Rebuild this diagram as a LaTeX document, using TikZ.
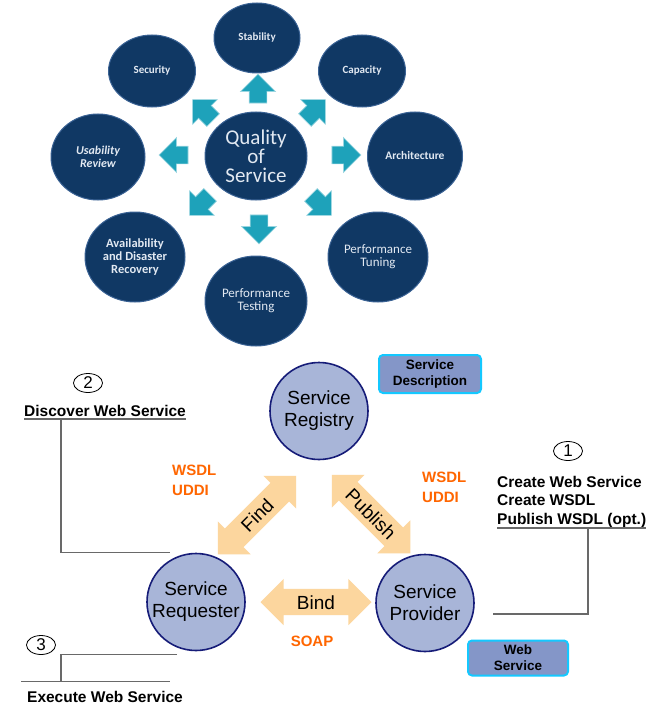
\documentclass[tikz,border=0pt]{standalone}
\usepackage{fontspec}
\setmainfont{Liberation Sans}
\newfontfamily\calfont{Carlito}
\usetikzlibrary{shapes.geometric}
\usetikzlibrary{shapes.arrows}
\usetikzlibrary{calc}
\definecolor{discblue}{RGB}{16,56,100}
\definecolor{discrim}{RGB}{58,98,148}
\definecolor{disctext}{RGB}{226,233,242}
\definecolor{qosteal}{RGB}{30,162,186}
\definecolor{regfill}{RGB}{168,181,216}
\definecolor{regedge}{RGB}{22,28,120}
\definecolor{peach}{RGB}{252,214,158}
\definecolor{boxfill}{RGB}{132,150,200}
\definecolor{boxedge}{RGB}{20,200,255}
\definecolor{wsdl}{RGB}{255,102,0}
\definecolor{callgray}{RGB}{105,105,105}
\begin{document}
\begin{tikzpicture}[x=1pt,y=-1pt,
    disc/.style={ellipse,fill=discblue,draw=discrim,line width=1pt,text=disctext,align=center,inner sep=0pt},
    qarrow/.style={single arrow,fill=qosteal,draw=white!55!qosteal,line width=0.7pt,inner xsep=0pt,inner ysep=8.5pt,
        minimum width=0pt,minimum height=29pt,single arrow head extend=8.5pt,single arrow tip angle=90},
    rolelabel/.style={align=center,inner sep=0pt,font=\fontsize{19}{22}\selectfont},
    role/.style={ellipse,fill=regfill,draw=regedge,line width=1.6pt,inner sep=0pt,minimum width=98pt,minimum height=97pt,
        label={[rolelabel]center:#1}},
    link/.style={double arrow,fill=peach,inner xsep=0pt,inner ysep=6pt,text height=14pt,text depth=0pt,
        double arrow head extend=10pt,double arrow tip angle=90,minimum height=111pt,font=\fontsize{19}{22}\selectfont},
    tag/.style={rounded corners=4pt,fill=boxfill,draw=boxedge,line width=2pt,align=center,inner sep=0pt,
        font=\bfseries\fontsize{13.5}{16}\selectfont},
    num/.style={ellipse,draw,line width=0.8pt,inner sep=0pt,minimum width=29pt,minimum height=19pt,font=\fontsize{17}{17}\selectfont},
    note/.style={inner sep=0pt,align=left,font=\bfseries\fontsize{15.5}{18.5}\selectfont},
    proto/.style={inner sep=0pt,align=left,text=wsdl,font=\bfseries\fontsize{15}{20}\selectfont},
    callout/.style={draw=callgray,line width=1.5pt}]
    \useasboundingbox (0,0) rectangle (656,706);
    \fill[white] (0,0) rectangle (656,706);
    \node[disc,minimum width=86pt,minimum height=70pt,font=\calfont\bfseries\fontsize{11}{13}\selectfont] (stab) at (257,38) {Stability};
    \node[disc,minimum width=87pt,minimum height=72pt,font=\calfont\bfseries\fontsize{11}{13}\selectfont] (sec) at (152,71) {Security};
    \node[disc,minimum width=87pt,minimum height=72pt,font=\calfont\bfseries\fontsize{11}{13}\selectfont] (cap) at (362,71) {Capacity};
    \node[disc,minimum width=94pt,minimum height=86pt,font=\calfont\bfseries\itshape\fontsize{12}{12.5}\selectfont] (usab) at (98,157) {Usability\\Review};
    \node[disc,minimum width=95pt,minimum height=88pt,font=\calfont\bfseries\fontsize{11.5}{13}\selectfont] (arch) at (415,156) {Architecture};
    \node[disc,minimum width=102pt,minimum height=88pt,font=\calfont\fontsize{21}{19}\selectfont] (qos) at (256,156) {Quality\\of\\Service};
    \node[disc,minimum width=100pt,minimum height=90pt,font=\calfont\bfseries\fontsize{12.5}{13}\selectfont] (avail) at (135,257) {Availability\\and Disaster\\Recovery};
    \node[disc,minimum width=100pt,minimum height=90pt,font=\calfont\fontsize{13}{13}\selectfont] (ptune) at (378,257) {Performance\\Tuning};
    \node[disc,minimum width=102pt,minimum height=90pt,font=\calfont\fontsize{13}{13}\selectfont] (ptest) at (256,301) {Performance\\Testing};
    \foreach \ang/\px/\py [count=\i] in {90/258/93,135/206/113,45/312/113,180/178/155,0/342/155,225/203/202,270/259/225,315/318/202}
        \node[qarrow,rotate=\ang] (q\i) at (\px,\py) {};
    \node[role={Service\\Registry}] (reg) at (319,411) {};
    \node[role={Service\\Requester}] (req) at (196,602) {};
    \node[role={Service\\Provider}] (prov) at (425,603) {};
    \node[link,rotate=45] (find) at (257,515) {Find};
    \node[link,rotate=-45] (pub) at (371,514) {Publish};
    \node[link] (bind) at (316,602) {Bind};
    \node[tag,minimum width=102pt,minimum height=38pt] (sdesc) at (430,374) {Service\\Description};
    \node[tag,minimum width=100pt,minimum height=35pt] (wsvc) at (518,658) {Web\\Service};
    \node[proto,anchor=north west] (wl) at (172,465) {WSDL\\UDDI};
    \node[proto,anchor=north west] (wr) at (422,472) {WSDL\\UDDI};
    \node[proto] (soap) at (312,641) {SOAP};
    \node[num] (n1) at (568,451) {1};
    \node[num] (n2) at (88,383) {2};
    \node[num] (n3) at (41,645) {3};
    \node[note,anchor=south west] (disc) at (24,417) {Discover Web Service};
    \node[note,anchor=north west] (make) at (497,476) {Create Web Service\\Create WSDL\\Publish WSDL (opt.)};
    \node[note] (exec) at (105,697) {Execute Web Service};
    \draw[callout] ([yshift=-2pt]disc.south west) -- ([yshift=-2pt]disc.south east);
    \draw[callout] ([xshift=37pt,yshift=-2pt]disc.south west) |- ([xshift=-26pt]req.north);
    \draw[callout] (make.south west) -- (make.south east);
    \draw[callout] ([xshift=91pt]make.south west) |- ([xshift=18pt,yshift=-11pt]prov.east);
    \draw[callout] ([xshift=-19pt,yshift=-3pt]req.south) -| ([xshift=-44pt,yshift=9.5pt]exec.north);
    \draw[callout] ([xshift=-84pt,yshift=9.5pt]exec.north) -- ([xshift=65pt,yshift=9.5pt]exec.north);
\end{tikzpicture}
\end{document}
